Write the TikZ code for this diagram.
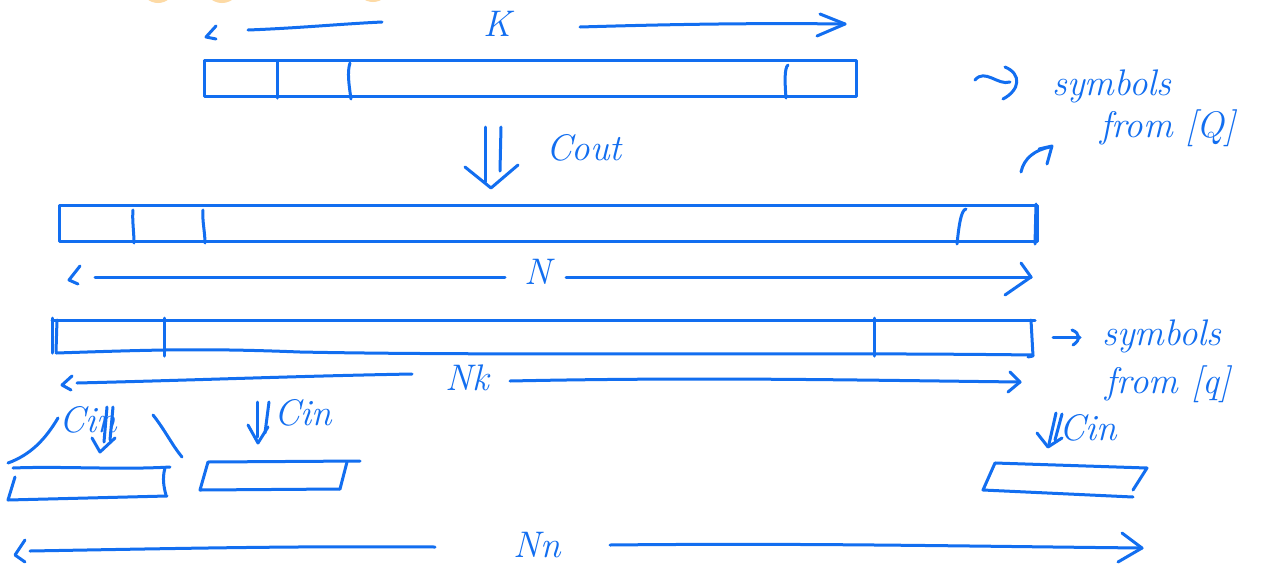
\documentclass[tikz,border=0pt]{standalone}
\usetikzlibrary{arrows.meta}
\definecolor{pen}{RGB}{18,110,240}
\definecolor{dotc}{RGB}{253,218,165}
\begin{document}
\begin{tikzpicture}[x=1pt,y=-1pt,
  pen/.style={draw=pen,line width=3pt,line cap=round,line join=round},
  lbl/.style={text=pen,font=\fontsize{37}{42}\selectfont\itshape,inner sep=0pt}]
\useasboundingbox (0,0) rectangle (1262,566);
\fill[white] (0,0) rectangle (1262,566);
\begin{scope}
  \clip (0,0) rectangle (1262,566);
  \fill[dotc] (158,-14) circle (17);
  \fill[dotc] (222,-15) circle (18);
  \fill[dotc] (373,-15) circle (17);
\end{scope}

% ---- top dimension K
\draw[pen] (216,26) -- (206,37) -- (216,39);
\coordinate (kL) at (248,30);
\coordinate (kLe) at (382,22);
\coordinate (kR) at (580,27);
\coordinate (kRe) at (845,24);
\node[lbl] (K) at (497,24) {K};
\draw[pen] (kL) .. controls (300,28) and (340,24) .. (kLe);
\draw[pen] (kR) .. controls (680,24) and (760,23) .. (kRe);
\draw[pen] (820,14) -- (845,24) -- (817,36);

% ---- top box
\draw[pen] (204,60) rectangle (856,96);
\draw[pen] (277,61) -- (277,98);
\draw[pen] (350,63) .. controls (347,72) and (349,85) .. (351,99);
\draw[pen] (788,65) .. controls (784,68) and (785,85) .. (786,98);

% ---- Cout
\draw[pen] (485,127) -- (485,182);
\draw[pen] (501,127) -- (500,171);
\draw[pen] (465,167) -- (491,188) -- (518,165);
\node[lbl] (cout) at (584,148) {Cout};

% ---- second box
\draw[pen] (59,205) rectangle (1037,241);
\draw[pen] (133,210) .. controls (132,220) and (134,232) .. (134,243);
\draw[pen] (203,210) .. controls (202,220) and (205,232) .. (205,243);
\draw[pen] (966,209) .. controls (961,210) and (959,225) .. (957,244);
\draw[pen] (1036,204) -- (1035,244);

% ---- N dimension
\draw[pen] (80,266) -- (69,280) -- (78,284);
\coordinate (nL) at (95,277);
\coordinate (nLe) at (505,277);
\coordinate (nR) at (566,277);
\coordinate (nRe) at (1031,277);
\node[lbl] (N) at (538,272) {N};
\draw[pen] (nL) -- (nLe);
\draw[pen] (nR) -- (nRe);
\draw[pen] (1021,263) -- (nRe) -- (1005,295);

% ---- symbols from [Q]
\draw[pen] (975,80) .. controls (985,68) and (998,86) .. (1010,82);
\draw[pen] (1005,67) .. controls (1022,74) and (1020,90) .. (1003,99);
\node[lbl] (sym1) at (1112,86) {symbols};
\node[lbl] (from1) at (1168,128) {from [Q]};
\draw[pen] (1021,172) .. controls (1024,158) and (1035,150) .. (1050,147);
\draw[pen] (1039,149) -- (1052,146) -- (1047,164);

% ---- third box
\draw[pen] (52,320) -- (1035,320);
\draw[pen] (52,318) -- (52,353);
\draw[pen] (57,320) -- (56,352);
\draw[pen] (56,353) .. controls (150,350) and (200,348) .. (300,352)
                     .. controls (500,356) and (800,352) .. (1033,355);
\draw[pen] (164,318) -- (164,356);
\draw[pen] (874,318) -- (874,356);
\draw[pen] (1031,320) -- (1033,356) -- (1028,357);

% ---- symbols from [q]
\draw[pen] (1053,337) -- (1080,337);
\draw[pen] (1072,330) .. controls (1080,333) and (1081,340) .. (1073,345);
\node[lbl] (sym2) at (1162,336) {symbols};
\node[lbl] (from2) at (1168,384) {from [q]};

% ---- Nk dimension
\draw[pen] (72,376) -- (62,385) -- (71,390);
\coordinate (kkL) at (77,383);
\coordinate (kkLe) at (412,374);
\coordinate (kkR) at (510,381);
\coordinate (kkRe) at (1020,382);
\node[lbl] (Nk) at (467,378) {Nk};
\draw[pen] (kkL) .. controls (200,380) and (300,376) .. (kkLe);
\draw[pen] (kkR) .. controls (700,377) and (850,380) .. (kkRe);
\draw[pen] (1010,372) -- (kkRe) -- (1008,392);

% ---- small box A with brace
\draw[pen] (13,468) .. controls (60,466) and (120,470) .. (170,467);
\draw[pen] (15,477) -- (8,500) -- (167,496);
\draw[pen] (165,468) .. controls (162,478) and (164,488) .. (166,495);
\draw[pen] (8,463) .. controls (30,455) and (45,440) .. (58,418);
\draw[pen] (153,415) .. controls (165,430) and (172,445) .. (182,457);
\node[lbl] (cinA) at (88,420) {Cin};
\draw[pen] (107,407) -- (104,442);
\draw[pen] (113,407) -- (110,440);
\draw[pen] (92,438) -- (100,452) -- (115,438);

% ---- small box B
\draw[pen] (208,462) -- (360,461);
\draw[pen] (208,462) -- (200,490) -- (340,489);
\draw[pen] (347,462) -- (340,489);
\draw[pen] (257,402) -- (257,437);
\draw[pen] (269,402) -- (265,433);
\draw[pen] (248,425) -- (258,443) -- (268,427);
\node[lbl] (cinB) at (303,413) {Cin};

% ---- small box C
\draw[pen] (995,463) -- (1147,468) -- (1133,490);
\draw[pen] (995,463) -- (983,490) -- (1133,497);
\draw[pen] (1056,413) -- (1049,444);
\draw[pen] (1062,414) -- (1055,440);
\draw[pen] (1037,433) -- (1048,447) -- (1062,438);
\node[lbl] (cinC) at (1088,428) {Cin};

% ---- Nn dimension
\draw[pen] (25,540) -- (15,555) -- (25,562);
\coordinate (nnL) at (30,551);
\coordinate (nnLe) at (435,547);
\coordinate (nnR) at (610,545);
\coordinate (nnRe) at (1142,548);
\node[lbl] (Nn) at (537,545) {Nn};
\draw[pen] (nnL) .. controls (200,548) and (300,546) .. (nnLe);
\draw[pen] (nnR) .. controls (800,543) and (950,546) .. (nnRe);
\draw[pen] (1122,533) -- (nnRe) -- (1118,562);
\end{tikzpicture}
\end{document}
